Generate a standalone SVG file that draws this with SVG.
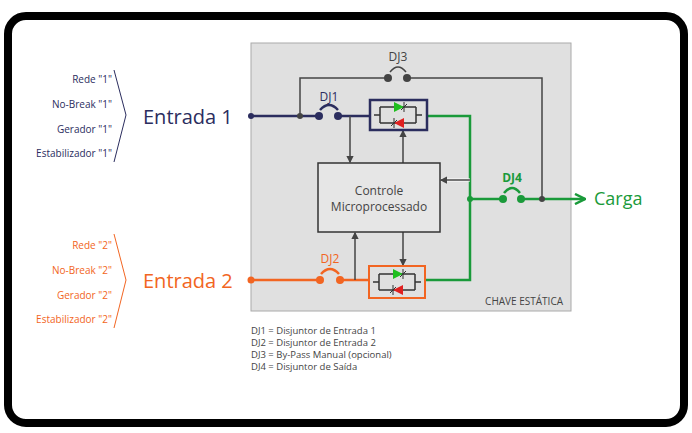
<svg xmlns="http://www.w3.org/2000/svg" width="692" height="433" viewBox="0 0 692 433">
<style>
text{font-family:"Open Sans","DejaVu Sans",sans-serif}
.n{fill:#2b2d5e}.o{fill:#f26522}.g{fill:#1a9a3a}.k{fill:#444}
.sm{font-size:10px}
.wn{stroke:#2b2d5e;stroke-width:2.5;fill:none}
.wo{stroke:#f26522;stroke-width:2.5;fill:none}
.wg{stroke:#1a9a3a;stroke-width:2.5;fill:none}
.wk{stroke:#444;stroke-width:1.5;fill:none}
</style>
<defs>
<marker id="a" viewBox="0 0 6 6" refX="5" refY="3" markerWidth="5" markerHeight="5" orient="auto"><path d="M0,0L6,3L0,6z" fill="#444"/></marker>
<marker id="ag" viewBox="0 0 10 10" refX="9" refY="5" markerWidth="5" markerHeight="5" orient="auto"><path d="M1,1L9,5L1,9" fill="none" stroke="#1a9a3a" stroke-width="2"/></marker>
<g id="thy">
<path d="M-24,0h6M18,0h6M-18,-8v16M18,-8v16M-18,-8h36M-18,8h36" stroke="#333" stroke-width="1.5" fill="none"/>
<path d="M-4,-13L6,-8L-4,-3z" fill="#1fbf1f"/><path d="M6,-13v10M3,-5l6,-6" stroke="#333" stroke-width="1"/>
<path d="M6,3L-4,8L6,13z" fill="#e02020"/><path d="M-4,3v10M-7,11l6,-6" stroke="#333" stroke-width="1"/>
</g>
</defs>
<rect x="8" y="16" width="676" height="407" rx="18" fill="#fff" stroke="#000" stroke-width="8"/>
<rect x="251" y="43" width="320" height="268" fill="#e0e0e0" stroke="#aaa" stroke-width="1"/>
<text x="563" y="305" text-anchor="end" class="k sm" font-size="11">CHAVE ESTÁTICA</text>

<g id="inputs1">
<text x="112" y="83" text-anchor="end" class="n sm">Rede "1"</text>
<text x="112" y="108" text-anchor="end" class="n sm">No-Break "1"</text>
<text x="112" y="133" text-anchor="end" class="n sm">Gerador "1"</text>
<text x="112" y="157" text-anchor="end" class="n sm">Estabilizador "1"</text>
<path d="M114,70L126,115L114,162" stroke="#2b2d5e" fill="none"/>
<text x="143" y="124" class="n" font-size="20">Entrada 1</text>
</g>
<g id="inputs2">
<text x="112" y="249" text-anchor="end" class="o sm">Rede "2"</text>
<text x="112" y="274" text-anchor="end" class="o sm">No-Break "2"</text>
<text x="112" y="299" text-anchor="end" class="o sm">Gerador "2"</text>
<text x="112" y="323" text-anchor="end" class="o sm">Estabilizador "2"</text>
<path d="M114,234L126,280L114,328" stroke="#f26522" fill="none"/>
<text x="143" y="288" class="o" font-size="20">Entrada 2</text>
</g>

<g id="connectors">
<path class="wk" d="M300,116V78H388M406,78H542V199"/>
<path class="wk" d="M390,72q8,-10 16,0" />
<path class="wn" d="M251,116H318M338,116H370"/>
<path class="wn" d="M320,110q9,-10 18,0" stroke-width="1.5"/>
<path class="wo" d="M251,280H319M340,280H368"/>
<path class="wo" d="M321,274q9,-10 18,0" stroke-width="1.5"/>
<path class="wg" d="M427,116H470V280H425M470,199H503M521,199H585" marker-end="url(#ag)"/>
<path class="wg" d="M504,193q8,-10 16,0" stroke-width="1.5"/>
<path class="wk" d="M350,116V162" marker-end="url(#a)"/>
<path class="wk" d="M403,163V131" marker-end="url(#a)" stroke-width="2"/>
<path class="wk" d="M403,232V265" marker-end="url(#a)" stroke-width="2"/>
<path class="wk" d="M355,280V233" marker-end="url(#a)"/>
<path d="M470,180H441" stroke="#fff" stroke-width="3"/>
<path class="wk" d="M470,180H441" marker-end="url(#a)"/>
<circle cx="251" cy="116" r="3" class="n"/><circle cx="300" cy="116" r="3" class="k"/>
<circle cx="319" cy="116" r="4" class="n"/><circle cx="338" cy="116" r="4" class="n"/>
<circle cx="388" cy="78" r="4" class="k"/><circle cx="407" cy="78" r="4" class="k"/>
<circle cx="251" cy="280" r="3.5" class="o"/>
<circle cx="320" cy="280" r="4" class="o"/><circle cx="340" cy="280" r="4" class="o"/>
<circle cx="470" cy="199" r="3" class="g"/><circle cx="503" cy="199" r="4" class="g"/><circle cx="521" cy="199" r="4" class="g"/>
<circle cx="542" cy="199" r="3" class="k"/>
</g>
<g id="labels">
<text x="398" y="61" text-anchor="middle" class="k" font-size="12">DJ3</text>
<text x="329" y="101" text-anchor="middle" class="n" font-size="12">DJ1</text>
<text x="330" y="263" text-anchor="middle" class="o" font-size="12">DJ2</text>
<text x="512" y="182" text-anchor="middle" class="g" font-size="12" font-weight="bold">DJ4</text>
<text x="594" y="205" class="g" font-size="18">Carga</text>
</g>
<g id="thy1"><rect x="370" y="100" width="57" height="30" fill="#e0e0e0" stroke="#2b2d5e" stroke-width="2.5"/><use href="#thy" x="398" y="115"/></g>
<g id="thy2"><rect x="369" y="266" width="56" height="32" fill="#e0e0e0" stroke="#f26522" stroke-width="2"/><use href="#thy" x="397" y="282"/></g>
<g id="control"><rect x="318" y="163" width="122" height="69" fill="#e6e6e6" stroke="#333" stroke-width="1.5"/>
<text x="379" y="195" text-anchor="middle" class="k" font-size="12">Controle</text>
<text x="379" y="211" text-anchor="middle" class="k" font-size="12">Microprocessado</text></g>
<g id="legend" class="k" font-size="9.5">
<text x="251" y="334">DJ1 = Disjuntor de Entrada 1</text>
<text x="251" y="346">DJ2 = Disjuntor de Entrada 2</text>
<text x="251" y="358">DJ3 = By-Pass Manual (opcional)</text>
<text x="251" y="370">DJ4 = Disjuntor de Saída</text>
</g>
</svg>
